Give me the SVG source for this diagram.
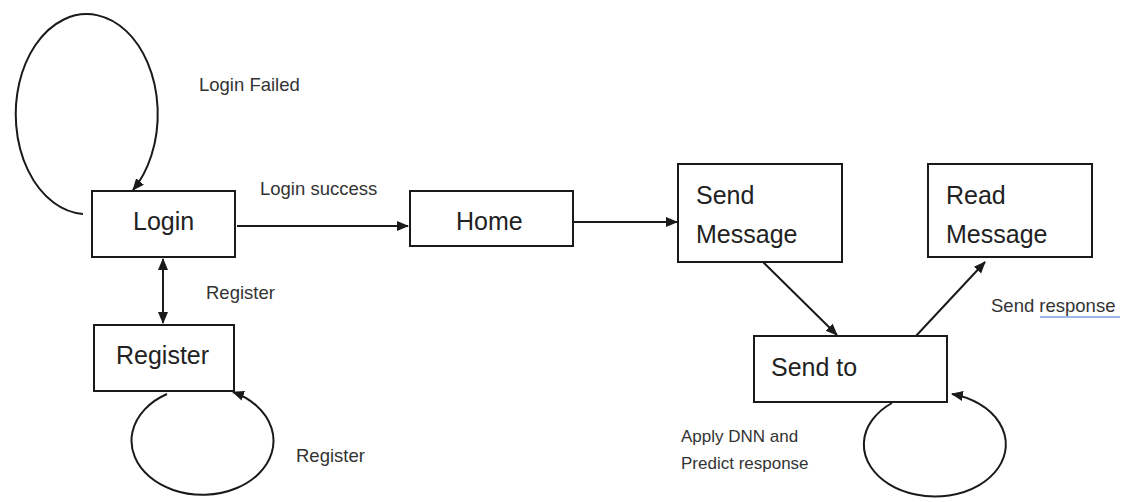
<svg xmlns="http://www.w3.org/2000/svg" width="1123" height="502" viewBox="0 0 1123 502">
<defs>
<marker id="ah" markerUnits="userSpaceOnUse" markerWidth="12" markerHeight="12" viewBox="0 0 12 12" refX="11" refY="6" orient="auto-start-reverse">
<path d="M0,1 L12,6 L0,11 Z" fill="#1a1a1a"/>
</marker>
</defs>
<style>
.box{fill:#fff;stroke:#1a1a1a;stroke-width:2}
.lbl{font-family:"Liberation Sans",Arial,sans-serif;font-size:25px;fill:#222}
.sm{font-family:"Liberation Sans",Arial,sans-serif;font-size:18.5px;fill:#333}
.xs{font-family:"Liberation Sans",Arial,sans-serif;font-size:17px;fill:#333}
.ln{fill:none;stroke:#1a1a1a;stroke-width:2}
</style>
<rect width="1123" height="502" fill="#fff"/>
<g id="connectors">
<path class="ln" d="M83 214 A71 100 0 1 1 133 190" marker-end="url(#ah)"/>
<line class="ln" x1="237" y1="226" x2="408" y2="226" marker-end="url(#ah)"/>
<line class="ln" x1="573" y1="222" x2="677" y2="222" marker-end="url(#ah)"/>
<line class="ln" x1="163" y1="259" x2="163" y2="323" marker-start="url(#ah)" marker-end="url(#ah)"/>
<path class="ln" d="M167 394 A71 54 0 1 0 233 392" marker-end="url(#ah)"/>
<line class="ln" x1="763" y1="262" x2="837" y2="335" marker-end="url(#ah)"/>
<line class="ln" x1="915" y1="337" x2="985" y2="262" marker-end="url(#ah)"/>
<path class="ln" d="M892 403 A71 52 0 1 0 952 394" marker-end="url(#ah)"/>
</g>
<g id="login"><rect class="box" x="92" y="191" width="143" height="66"/><text class="lbl" x="133" y="230">Login</text></g>
<g id="register"><rect class="box" x="94" y="325" width="140" height="66"/><text class="lbl" x="116" y="364">Register</text></g>
<g id="home"><rect class="box" x="410" y="191" width="163" height="55"/><text class="lbl" x="456" y="230">Home</text></g>
<g id="send-message"><rect class="box" x="678" y="164" width="164" height="98"/><text class="lbl" x="696" y="204">Send</text><text class="lbl" x="696" y="243">Message</text></g>
<g id="read-message"><rect class="box" x="928" y="164" width="164" height="93"/><text class="lbl" x="946" y="204">Read</text><text class="lbl" x="946" y="243">Message</text></g>
<g id="send-to"><rect class="box" x="754" y="336" width="193" height="66"/><text class="lbl" x="771" y="376">Send to</text></g>
<g id="labels">
<text class="sm" x="199" y="91">Login Failed</text>
<text class="sm" x="260" y="195">Login success</text>
<text class="sm" x="206" y="299">Register</text>
<text class="sm" x="296" y="462">Register</text>
<text class="sm" x="991" y="312">Send response</text>
<line x1="1040" y1="317" x2="1120" y2="317" stroke="#9db8e6" stroke-width="2"/>
<text class="xs" x="681" y="442">Apply DNN and</text>
<text class="xs" x="681" y="469">Predict response</text>
</g>
</svg>
